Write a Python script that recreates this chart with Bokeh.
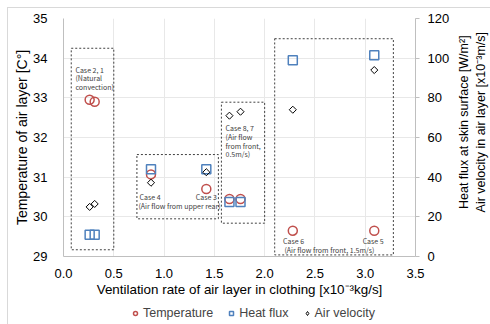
import math
from bokeh.plotting import figure
from bokeh.layouts import column, row
from bokeh.models import Range1d, LinearAxis, FixedTicker, Legend, LegendItem
from bokeh.embed import file_html
from bokeh.resources import INLINE
from bokeh.core.properties import value

# ---- data ----
cases = ["Case 2", "Case 1", "Case 4", "Case 3", "Case 8", "Case 7", "Case 6", "Case 5"]
ventilation = [0.26, 0.31, 0.87, 1.42, 1.65, 1.76, 2.28, 3.09]
temperature = [32.95, 32.9, 31.07, 30.7, 30.45, 30.45, 29.65, 29.65]
heat_flux = [11, 11, 44, 44, 27.5, 27.5, 99, 101.5]
air_velocity = [25, 26.5, 37.2, 42.5, 71, 73, 74, 94]
series_names = ["Temperature", "Heat flux", "Air velocity"]

left_ticks = [29, 30, 31, 32, 33, 34, 35]
right_ticks = [0, 20, 40, 60, 80, 100, 120]
x_ticks = [0.0, 0.5, 1.0, 1.5, 2.0, 2.5, 3.0, 3.5]

# dashed group boxes (x in ventilation units, y in temperature units)
box_left = [0.077, 0.73, 1.57, 2.10]
box_right = [0.50, 1.54, 2.00, 3.28]
box_top = [34.25, 31.57, 32.89, 34.49]
box_bottom = [29.17, 29.95, 29.84, 29.04]

note_text = ["Case 2, 1", "(Natural", "convection)",
             "Case 4", "(Air flow from upper rear)",
             "Case 8, 7", "(Air flow", "from front,", "0.5m/s)",
             "(Air flow from front, 1.5m/s)"]
note_x = [0.119, 0.119, 0.119, 0.756, 0.745, 1.611, 1.611, 1.611, 1.611, 2.197]
note_y = [33.714, 33.488, 33.261, 30.495, 30.273, 32.245, 32.018, 31.791, 31.572, 29.169]

center_text = ["Case 3", "Case 6", "Case 5"]
center_x = [1.42, 2.287, 3.079]
center_y = [30.495, 29.396, 29.396]

right_titles = ["Heat flux at skin surface [W/m\u00b2]",
                "Air velocity in air layer [x10\u207b\u00b3m/s]"]

RED = "#C0504D"
BLUE = "#4F81BD"
GRID = "#e8e8e8"
AXIS = "#bfbfbf"
FONT = "Liberation Sans"
NOTE_FONT = "Noto Sans CJK JP"

MARK_T = dict(marker="circle", size=9, fill_color=None, line_color=RED, line_width=1.5)
MARK_H = dict(marker="square", size=9, fill_color=None, line_color=BLUE, line_width=1.5)
MARK_A = dict(marker="square", angle=math.pi / 4, size=5, fill_color=None,
              line_color="#000000", line_width=1)
MARK_A_LEGEND = dict(marker="diamond", size=9, fill_color=None,
                     line_color="#000000", line_width=1)

p = figure(width=444, height=296, x_range=Range1d(0, 3.5), y_range=Range1d(29, 35),
           output_backend="svg", toolbar_location=None,
           min_border_left=55, min_border_right=37, min_border_top=10, min_border_bottom=48)
p.extra_y_ranges = {"right": Range1d(0, 120)}
p.outline_line_color = None
p.background_fill_color = "white"

# axes
xa = p.xaxis[0]
xa.ticker = FixedTicker(ticks=x_ticks)
xa.axis_label = "Ventilation rate of air layer in clothing [x10\u207b\u00b3kg/s]"
ya = p.yaxis[0]
ya.ticker = FixedTicker(ticks=left_ticks)
ya.axis_label = "Temperature of air layer [C\u00b0]"
for ax in (xa, ya):
    ax.axis_line_color = AXIS
    ax.major_tick_line_color = None
    ax.minor_tick_line_color = None
    ax.major_label_text_font = FONT
    ax.major_label_text_font_size = "13px"
    ax.major_label_text_color = "#000000"
    ax.axis_label_text_font = FONT
    ax.axis_label_text_font_style = "normal"
    ax.axis_label_text_color = "#000000"
xa.axis_label_text_font_size = "13.4px"
ya.axis_label_text_font_size = "14px"
xa.major_label_standoff = 6
xa.axis_label_standoff = 1
ya.major_label_standoff = 10
ya.axis_label_standoff = 0
xa.major_label_overrides = {t: f"{t:.1f}" for t in x_ticks}

ra = LinearAxis(y_range_name="right", ticker=FixedTicker(ticks=right_ticks))
ra.axis_line_color = AXIS
ra.major_tick_line_color = AXIS
ra.major_tick_out = 4
ra.major_tick_in = 0
ra.minor_tick_line_color = None
ra.major_label_text_font = FONT
ra.major_label_text_font_size = "13px"
ra.major_label_text_color = "#000000"
ra.major_label_standoff = 8
p.add_layout(ra, "right")

p.xgrid.ticker = FixedTicker(ticks=x_ticks)
p.ygrid.ticker = FixedTicker(ticks=left_ticks)
p.xgrid.grid_line_color = GRID
p.ygrid.grid_line_color = GRID

# dashed boxes
p.quad(left=box_left, right=box_right, top=box_top, bottom=box_bottom,
       fill_color=None, line_color="#404040", line_dash="2 2", line_width=1)

# notes
p.text(x=note_x, y=note_y, text=note_text, text_font=value(NOTE_FONT),
       text_font_size="7px", text_align="left", text_baseline="middle", text_color="#404040")
p.text(x=center_x, y=center_y, text=center_text, text_font=value(NOTE_FONT),
       text_font_size="7px", text_align="center", text_baseline="middle", text_color="#404040")

# series
p.scatter(ventilation, temperature, **MARK_T)
p.scatter(ventilation, heat_flux, y_range_name="right", **MARK_H)
p.scatter(ventilation, air_velocity, y_range_name="right", **MARK_A)

# right-hand axis titles (two lines, reading bottom to top)
rf = figure(width=39, height=296, x_range=Range1d(0, 39), y_range=Range1d(0, 296),
            output_backend="svg", toolbar_location=None,
            min_border_left=0, min_border_right=0, min_border_top=0, min_border_bottom=0)
rf.axis.visible = False
rf.grid.visible = False
rf.outline_line_color = None
rf.text(x=[11, 28], y=[167, 167], text=right_titles, angle=math.pi / 2,
        text_font=value(FONT), text_font_size="12.5px", text_color="#000000",
        text_align="center", text_baseline="middle")

# legend strip below the chart (same marker styles, data kept out of view)
lg = figure(width=483, height=20, x_range=Range1d(10, 11), y_range=Range1d(100, 101),
            output_backend="svg", toolbar_location=None,
            min_border_left=0, min_border_right=0, min_border_top=0, min_border_bottom=0)
lg.axis.visible = False
lg.grid.visible = False
lg.outline_line_color = None
l_t = lg.scatter(ventilation, temperature, **MARK_T)
l_h = lg.scatter(ventilation, heat_flux, **MARK_H)
l_a = lg.scatter(ventilation, air_velocity, **MARK_A_LEGEND)
legend = Legend(items=[LegendItem(label=series_names[0], renderers=[l_t]),
                       LegendItem(label=series_names[1], renderers=[l_h]),
                       LegendItem(label=series_names[2], renderers=[l_a])],
                orientation="horizontal", location=(122, 4),
                label_text_font=FONT, label_text_font_size="12.5px",
                glyph_width=10, glyph_height=14, label_standoff=3, spacing=13,
                label_height=14, padding=0, margin=0,
                border_line_color=None, background_fill_alpha=0)
lg.add_layout(legend, "center")

layout = column(row(p, rf, spacing=0), lg, spacing=0,
                styles={"margin-left": "7px", "margin-top": "7px",
                        "border-top": "1px solid #d9d9d9", "border-left": "1px solid #d9d9d9"})

open("out.html", "w").write(file_html(layout, INLINE))
